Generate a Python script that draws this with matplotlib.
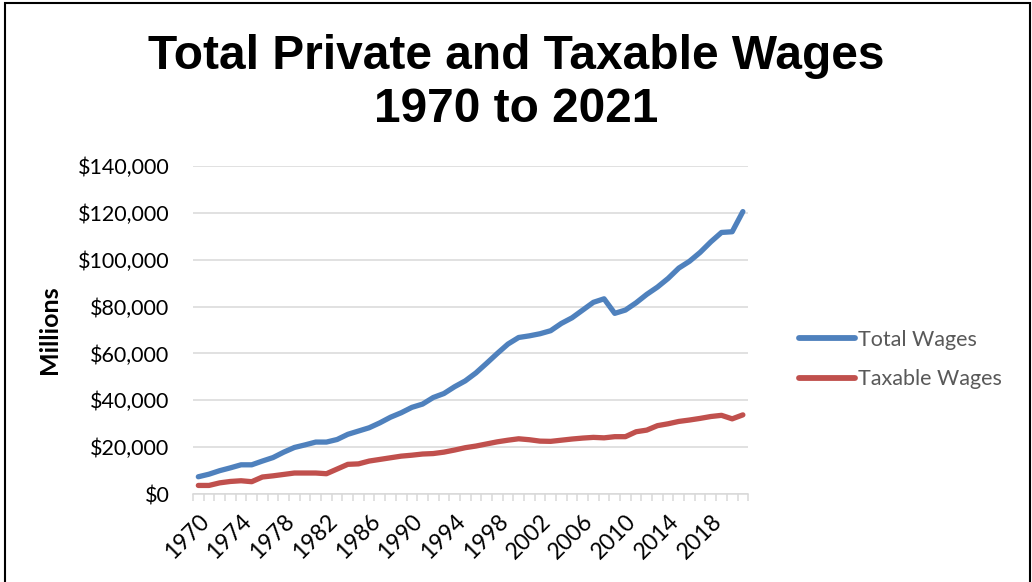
import matplotlib.pyplot as plt
from matplotlib.ticker import FuncFormatter, MultipleLocator
from matplotlib.patches import Rectangle

years = list(range(1970, 2022))

# Annual totals, millions of dollars
total_wages = [
    7400, 8500, 10000, 11200, 12500, 12500, 14100, 15600, 17900, 19900,
    21000, 22200, 22200, 23300, 25500, 26900, 28300, 30400, 32800, 34700,
    37000, 38400, 41200, 42900, 45800, 48300, 51700, 55800, 60000, 64000,
    66800, 67500, 68400, 69700, 72800, 75200, 78500, 81800, 83300, 77100,
    78500, 81600, 85200, 88300, 92000, 96400, 99300, 103100, 107600, 111600,
    111900, 120500,
]
taxable_wages = [
    3700, 3700, 4800, 5400, 5700, 5300, 7300, 7800, 8400, 9000,
    9000, 9000, 8700, 10700, 12700, 12900, 14100, 14800, 15500, 16200,
    16600, 17100, 17300, 17900, 18800, 19800, 20500, 21400, 22300, 23000,
    23600, 23200, 22600, 22500, 23000, 23500, 23900, 24200, 24000, 24500,
    24500, 26600, 27300, 29200, 30000, 31000, 31600, 32300, 33100, 33600,
    32100, 33800,
]

fig = plt.figure(figsize=(10.32, 5.82), dpi=100)
ax = fig.add_axes([0.187, 0.151, 0.538, 0.564])

x = range(len(years))
ax.plot(x, total_wages, color='#4F81BD', linewidth=3.8,
        solid_capstyle='round', solid_joinstyle='round', label='Total Wages')
ax.plot(x, taxable_wages, color='#C0504D', linewidth=3.8,
        solid_capstyle='round', solid_joinstyle='round', label='Taxable Wages')

ax.set_xlim(-0.5, len(years) - 0.5)
ax.set_ylim(0, 140000)

# y axis: dollar labels with light gridlines
ax.yaxis.set_major_locator(MultipleLocator(20000))
ax.yaxis.set_major_formatter(FuncFormatter(lambda v, p: '${:,.0f}'.format(v)))
ax.grid(axis='y', color='#D9D9D9', linewidth=1.1)
ax.set_axisbelow(True)
ax.tick_params(axis='y', length=0, pad=17, labelsize=15.5, labelcolor='#000000')

# x axis: labels every 4 years, small ticks between categories
ax.set_xticks(list(range(0, len(years), 4)))
ax.set_xticklabels([str(y) for y in years[::4]], rotation=45,
                   ha='right', va='top', rotation_mode='anchor')
ax.set_xticks([i - 0.5 for i in range(len(years) + 1)], minor=True)
ax.tick_params(axis='x', which='major', length=0, pad=12, labelsize=16.5)
ax.tick_params(axis='x', which='minor', length=5, width=1.1, color='#D9D9D9')

for side in ['top', 'right', 'left']:
    ax.spines[side].set_visible(False)
ax.spines['bottom'].set_color('#D9D9D9')
ax.spines['bottom'].set_linewidth(1.1)

for lab in ax.get_xticklabels() + ax.get_yticklabels():
    lab.set_family(['Lato', 'DejaVu Sans'])

ax.set_ylabel('Millions', fontsize=18, fontweight='bold',
              family=['Lato', 'DejaVu Sans'], labelpad=12)

fig.text(0.5, 0.857, 'Total Private and Taxable Wages\n1970 to 2021',
         ha='center', va='center', fontsize=34.5, fontweight='bold',
         family=['Liberation Sans', 'DejaVu Sans'], linespacing=1.22)

leg = ax.legend(loc='center left', bbox_to_anchor=(1.092, 0.41),
                frameon=False, handlelength=2.6, borderpad=0,
                borderaxespad=0, handletextpad=0.15, labelspacing=0.9,
                prop={'family': ['Lato', 'DejaVu Sans'], 'size': 15.5})
for t in leg.get_texts():
    t.set_color('#595959')
for h in leg.get_lines():
    h.set_linewidth(4.2)

# thin black frame around the figure
fig.patches.append(Rectangle((0.005, -0.01), 0.993, 1.005,
                             transform=fig.transFigure, fill=False,
                             edgecolor='black', linewidth=1.5))

fig.savefig('out.png', dpi=100)
